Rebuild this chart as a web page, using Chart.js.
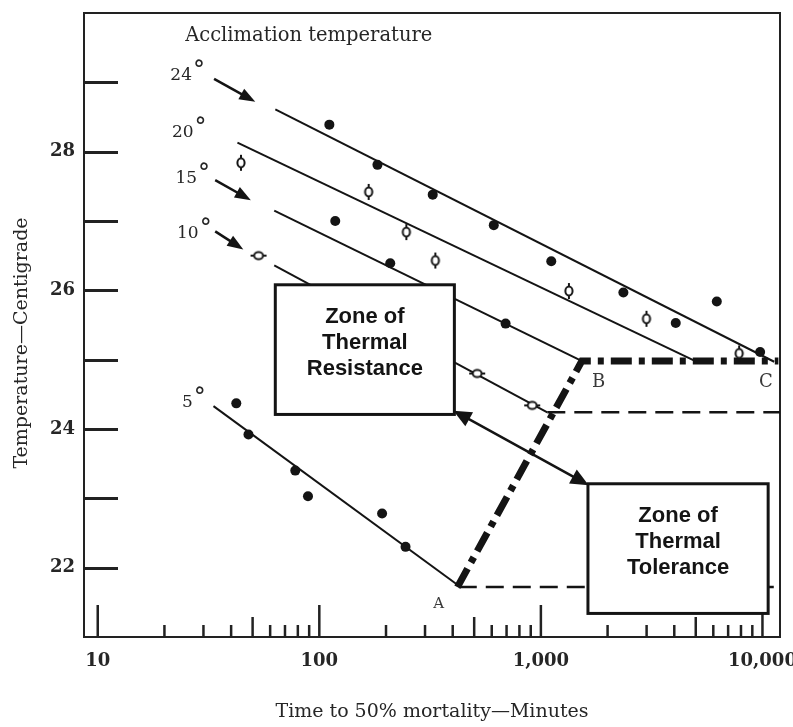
<!DOCTYPE html>
<html><head><meta charset="utf-8">
<script src="https://cdn.jsdelivr.net/npm/chart.js@4/dist/chart.umd.min.js"></script>
<style>html,body{margin:0;padding:0;background:#fff;}</style>
</head><body>
<canvas id="c" width="793" height="727"></canvas>
<script>
// ---------- axis ticks ----------
const xTickValues = [10, 100, 1000, 10000];
const xTickLabels = ['10', '100', '1,000', '10,000'];
const yTickLabels = [22, 24, 26, 28];

// ---------- observations (time to 50% mortality, minutes / lethal temperature, °C) ----------
const time24 = [111, 183, 325, 613, 1114, 2357, 4061, 6223, 9760];
const temp24 = [28.39, 27.81, 27.38, 26.94, 26.42, 25.97, 25.53, 25.84, 25.11];
const time20 = [44.3, 167, 247, 334, 1338, 2995, 7850];
const temp20 = [27.84, 27.42, 26.84, 26.43, 25.99, 25.59, 25.09];
const time15 = [118, 209, 693];
const temp15 = [27.0, 26.39, 25.52];
const time10 = [53.2, 516, 914];
const temp10 = [26.50, 24.80, 24.34];
const time5 = [42.2, 47.9, 77.9, 88.9, 192, 245];
const temp5 = [24.37, 23.92, 23.40, 23.03, 22.78, 22.30];

// ---------- fitted resistance lines ----------
const fit24Time = [63.3, 11300], fit24Temp = [28.61, 24.97];
const fit20Time = [42.7, 4900],  fit20Temp = [28.13, 24.99];
const fit15Time = [62.6, 1510],  fit15Temp = [27.15, 24.99];
const fit10Time = [62.6, 1069],  fit10Temp = [26.36, 24.24];
const fit5Time  = [33.3, 426],   fit5Temp  = [24.33, 21.74];
// tolerance (horizontal) lines
const tol10Time = [1069, 12000], tol10Temp = [24.24, 24.24];
const tol5Time  = [426, 12000],  tol5Temp  = [21.72, 21.72];
// boundary A-B-C
const abcTime = [420, 1530, 11800], abcTemp = [21.72, 24.98, 24.98];

// ---------- annotations (data coordinates) ----------
const acclimLabels = ['24', '20', '15', '10', '5'];
const acclimLabelTime = [23.8, 24.2, 25.1, 25.5, 25.4];
const acclimLabelTemp = [29.10, 28.27, 27.61, 26.82, 24.38];
const pointerFrom = [[33.5, 29.05], [33.9, 27.59], [33.9, 26.85]];
const pointerTo   = [[51.4, 28.72], [49.1, 27.30], [45.4, 26.59]];
const letterText = ['A', 'B', 'C'];
const letterTime = [346, 1823, 10360];
const letterTemp = [21.48, 24.68, 24.68];
const zone1Lines = ['Zone of', 'Thermal', 'Resistance'];
const zone1Time = [63.3, 407], zone1Temp = [26.08, 24.21];
const zone2Lines = ['Zone of', 'Thermal', 'Tolerance'];
const zone2Time = [1631, 10610], zone2Temp = [23.21, 21.34];
const doubleArrow = [[403, 24.265], [1643, 23.19]];

// ---------- styling ----------
const INK = '#141414';
const SCAN = '#262626';
const serif = '"DejaVu Serif", "Liberation Serif", serif';
const sans = '"Liberation Sans", Arial, sans-serif';

const xy = (xs, ys) => xs.map((v, i) => ({x: v, y: ys[i]}));

function makePhi() {
  const c = document.createElement('canvas');
  c.width = 14; c.height = 18;
  const g = c.getContext('2d');
  g.strokeStyle = INK; g.fillStyle = '#fff'; g.lineWidth = 2;
  g.beginPath(); g.ellipse(7, 9, 3.6, 4.4, 0, 0, Math.PI * 2); g.fill(); g.stroke();
  g.beginPath(); g.moveTo(7, 1); g.lineTo(7, 4.6); g.moveTo(7, 13.4); g.lineTo(7, 17); g.stroke();
  return c;
}
const phi = makePhi();

const dot = (xs, ys) => ({data: xy(xs, ys), showLine: false, pointStyle: 'circle', pointRadius: 5,
  pointBackgroundColor: INK, pointBorderColor: INK, pointBorderWidth: 0});
const ring = (xs, ys, rot) => ({data: xy(xs, ys), showLine: false, pointStyle: phi, pointRadius: 7, pointRotation: rot});
const line = (xs, ys, extra) => Object.assign({data: xy(xs, ys), showLine: true, pointRadius: 0,
  borderColor: INK, borderWidth: 2, fill: false, borderCapStyle: 'butt'}, extra || {});

function arrowHead(ctx, x1, y1, x2, y2, len, half) {
  const a = Math.atan2(y2 - y1, x2 - x1);
  ctx.beginPath();
  ctx.moveTo(x2, y2);
  ctx.lineTo(x2 - len * Math.cos(a) + half * Math.sin(a), y2 - len * Math.sin(a) - half * Math.cos(a));
  ctx.lineTo(x2 - len * Math.cos(a) - half * Math.sin(a), y2 - len * Math.sin(a) + half * Math.cos(a));
  ctx.closePath(); ctx.fill();
}

const overlay = {
  id: 'overlay',
  beforeDatasetsDraw(chart) {
    const {ctx, chartArea: a, scales: {x, y}} = chart;
    ctx.save();
    ctx.strokeStyle = '#222';
    ctx.lineWidth = 2;
    ctx.beginPath(); ctx.moveTo(a.left, a.top); ctx.lineTo(a.right, a.top); ctx.lineTo(a.right, a.bottom); ctx.stroke();
    ctx.lineWidth = 3;
    y.ticks.forEach(t => {
      if (t.value > y.min && t.value < y.max) {
        const py = Math.round(y.getPixelForValue(t.value)) + 0.5;
        ctx.beginPath(); ctx.moveTo(a.left, py); ctx.lineTo(a.left + 34, py); ctx.stroke();
      }
    });
    ctx.lineWidth = 2.5;
    for (let d = 10; d <= 10000; d *= 10) {
      for (let m = 1; m <= 9; m++) {
        const v = d * m;
        if (v < x.min || v > x.max) continue;
        const len = m === 1 ? 32 : (m === 5 ? 20 : 12);
        const px = x.getPixelForValue(v);
        ctx.beginPath(); ctx.moveTo(px, a.bottom); ctx.lineTo(px, a.bottom - len); ctx.stroke();
      }
    }
    ctx.restore();
  },
  afterDatasetsDraw(chart) {
    const {ctx, chartArea: a, scales: {x, y}} = chart;
    const X = v => x.getPixelForValue(v), Y = v => y.getPixelForValue(v);
    ctx.save();
    // header
    ctx.fillStyle = SCAN;
    ctx.font = '19.5px ' + serif;
    ctx.textAlign = 'left'; ctx.textBaseline = 'middle';
    ctx.fillText('Acclimation temperature', X(24.8), Y(29.67));
    // acclimation labels
    acclimLabels.forEach((t, i) => {
      ctx.font = '17px ' + serif;
      ctx.textAlign = 'center'; ctx.textBaseline = 'middle';
      const px = X(acclimLabelTime[i]), py = Y(acclimLabelTemp[i]);
      ctx.fillText(t, px, py);
      const w = ctx.measureText(t).width;
      ctx.font = '24px ' + serif;
      ctx.textAlign = 'left';
      ctx.fillText('°', px + w / 2 + 1, py - 4);
    });
    // pointer arrows
    ctx.strokeStyle = INK; ctx.fillStyle = INK; ctx.lineWidth = 2.5;
    pointerFrom.forEach((f, i) => {
      const x1 = X(f[0]), y1 = Y(f[1]), x2 = X(pointerTo[i][0]), y2 = Y(pointerTo[i][1]);
      const ang = Math.atan2(y2 - y1, x2 - x1);
      ctx.beginPath(); ctx.moveTo(x1, y1); ctx.lineTo(x2 - 8 * Math.cos(ang), y2 - 8 * Math.sin(ang)); ctx.stroke();
      arrowHead(ctx, x1, y1, x2, y2, 16, 6);
    });
    // letters
    ctx.fillStyle = '#3a3a3a';
    ctx.textAlign = 'center'; ctx.textBaseline = 'middle';
    letterText.forEach((t, i) => {
      ctx.font = (t === 'A' ? '15px ' : '18px ') + serif;
      ctx.fillText(t, X(letterTime[i]), Y(letterTemp[i]));
    });
    // boxes
    const box = (tx, ty, lines) => {
      const l = X(tx[0]), r = X(tx[1]), t = Y(ty[0]), b = Y(ty[1]);
      ctx.fillStyle = '#fff';
      ctx.fillRect(l, t, r - l, b - t);
      ctx.strokeStyle = INK; ctx.lineWidth = 3;
      ctx.strokeRect(l, t, r - l, b - t);
      ctx.fillStyle = INK;
      ctx.font = 'bold 22px ' + sans;
      ctx.textAlign = 'center'; ctx.textBaseline = 'middle';
      lines.forEach((s, i) => ctx.fillText(s, (l + r) / 2, t + 32 + i * 26));
    };
    box(zone1Time, zone1Temp, zone1Lines);
    box(zone2Time, zone2Temp, zone2Lines);
    // double arrow
    const p1 = doubleArrow[0], p2 = doubleArrow[1];
    const ax1 = X(p1[0]), ay1 = Y(p1[1]), ax2 = X(p2[0]), ay2 = Y(p2[1]);
    const ang = Math.atan2(ay2 - ay1, ax2 - ax1);
    ctx.strokeStyle = INK; ctx.fillStyle = INK; ctx.lineWidth = 2.5;
    ctx.beginPath();
    ctx.moveTo(ax1 + 12 * Math.cos(ang), ay1 + 12 * Math.sin(ang));
    ctx.lineTo(ax2 - 12 * Math.cos(ang), ay2 - 12 * Math.sin(ang));
    ctx.stroke();
    arrowHead(ctx, ax1, ay1, ax2, ay2, 18, 8);
    arrowHead(ctx, ax2, ay2, ax1, ay1, 18, 8);
    ctx.restore();
  },
  afterDraw(chart) {
    const {ctx, chartArea: a} = chart;
    ctx.save();
    ctx.fillStyle = SCAN;
    ctx.font = '19px ' + serif;
    ctx.textAlign = 'center'; ctx.textBaseline = 'middle';
    ctx.translate(22, (a.top + a.bottom) / 2 + 18);
    ctx.rotate(-Math.PI / 2);
    ctx.fillText('Temperature\u2014Centigrade', 0, 0);
    ctx.restore();
  }
};

new Chart(document.getElementById('c'), {
  type: 'scatter',
  data: {
    datasets: [
      dot(time24, temp24),
      ring(time20, temp20, 0),
      dot(time15, temp15),
      ring(time10, temp10, 90),
      dot(time5, temp5),
      line(abcTime, abcTemp, {borderWidth: 7, borderDash: [21, 7, 6, 7]}),
      line(fit24Time, fit24Temp),
      line(fit20Time, fit20Temp),
      line(fit15Time, fit15Temp),
      line(fit10Time, fit10Temp),
      line(fit5Time, fit5Temp),
      line(tol10Time, tol10Temp, {borderDash: [18, 9], borderWidth: 2.5}),
      line(tol5Time, tol5Temp, {borderDash: [18, 9], borderWidth: 2.5})
    ]
  },
  options: {
    responsive: false,
    animation: false,
    devicePixelRatio: 1,
    layout: {padding: {top: 13, right: 13, left: 0, bottom: 0}},
    plugins: {legend: {display: false}, tooltip: {enabled: false}},
    scales: {
      x: {
        type: 'logarithmic',
        min: 8.67, max: 12000,
        grid: {display: false, drawTicks: false},
        border: {display: true, color: '#222', width: 2},
        afterBuildTicks: s => { s.ticks = xTickValues.map(v => ({value: v})); },
        ticks: {
          autoSkip: false, maxRotation: 0, padding: 14,
          color: SCAN, font: {family: serif, size: 18, weight: 'bold'},
          callback: (v, i) => xTickLabels[i]
        },
        title: {display: true, text: 'Time to 50% mortality\u2014Minutes', color: SCAN,
          font: {family: serif, size: 19}, padding: {top: 0, bottom: 4}},
        afterFit: s => { s.height = 90; s.paddingLeft = 0; s.paddingRight = 0; }
      },
      y: {
        min: 21, max: 30,
        grid: {display: false, drawTicks: false},
        border: {display: true, color: '#222', width: 2},
        ticks: {
          stepSize: 1, autoSkip: false, padding: 9,
          color: SCAN, font: {family: serif, size: 18, weight: 'bold'},
          callback: v => yTickLabels.includes(v) ? String(v) : ''
        },
        afterFit: s => { s.width = 84; s.paddingTop = 0; s.paddingBottom = 0; }
      }
    }
  },
  plugins: [overlay]
});
</script>
</body></html>
